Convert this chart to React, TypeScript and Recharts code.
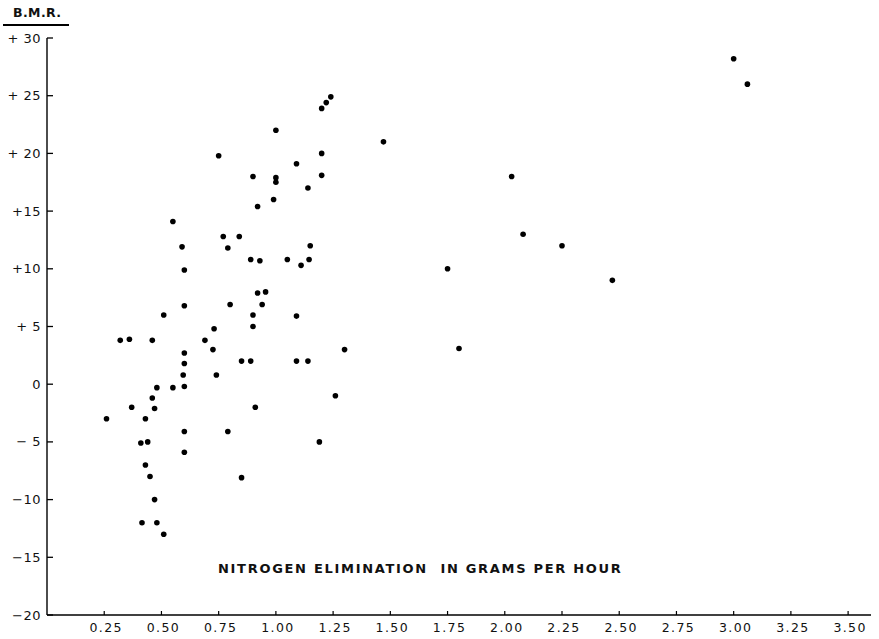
import React from "react";
import { ScatterChart, Scatter, XAxis, YAxis } from "recharts";

// Nitrogen elimination (g/hour)
const nitrogen = [
  0.92, 0.955, 0.60, 0.80, 0.94, 0.51, 0.90, 0.90, 0.73, 0.32,
  0.36, 0.46, 0.69, 0.725, 0.60, 0.85, 0.89, 0.60, 0.595, 0.74,
  0.48, 0.55, 0.60, 0.46, 0.37, 0.47, 0.91, 0.26, 0.43, 0.60,
  0.79, 0.41, 0.44, 0.60, 0.43, 0.45, 0.85, 0.47, 0.415, 0.48,
  0.51, 1.24, 1.22, 1.20, 1.00, 0.75, 1.20, 1.09, 0.90, 1.00,
  1.00, 1.20, 1.14, 0.99, 0.92, 0.77, 0.84, 0.59, 0.79, 1.15,
  0.89, 0.93, 1.05, 1.11, 1.145, 0.60, 0.55, 3.00, 3.06, 2.03,
  2.08, 2.25, 1.75, 2.47, 1.80, 1.47, 1.26, 1.30, 1.19, 1.09,
  1.14, 1.09,
];

// Basal metabolic rate (B.M.R.)
const bmr = [
  7.9, 8.0, 6.8, 6.9, 6.9, 6.0, 6.0, 5.0, 4.8, 3.8,
  3.9, 3.8, 3.8, 3.0, 2.7, 2.0, 2.0, 1.8, 0.8, 0.8,
  -0.3, -0.3, -0.2, -1.2, -2.0, -2.1, -2.0, -3.0, -3.0, -4.1,
  -4.1, -5.1, -5.0, -5.9, -7.0, -8.0, -8.1, -10.0, -12.0, -12.0,
  -13.0, 24.9, 24.4, 23.9, 22.0, 19.8, 20.0, 19.1, 18.0, 17.9,
  17.5, 18.1, 17.0, 16.0, 15.4, 12.8, 12.8, 11.9, 11.8, 12.0,
  10.8, 10.7, 10.8, 10.3, 10.8, 9.9, 14.1, 28.2, 26.0, 18.0,
  13.0, 12.0, 10.0, 9.0, 3.1, 21.0, -1.0, 3.0, -5.0, 2.0,
  2.0, 5.9,
];

const xTicks = [0.25, 0.5, 0.75, 1.0, 1.25, 1.5, 1.75, 2.0, 2.25, 2.5, 2.75, 3.0, 3.25, 3.5];
const xTickLabels = ["0.25", "0.50", "0.75", "1.00", "1.25", "1.50", "1.75", "2.00", "2.25", "2.50", "2.75", "3.00", "3.25", "3.50"];
const yTicks = [30, 25, 20, 15, 10, 5, 0, -5, -10, -15, -20];
const yTickLabels = ["+ 30", "+ 25", "+ 20", "+15", "+10", "+ 5", "0", "\u2212 5", "\u221210", "\u221215", "\u221220"];

const data = nitrogen.map((x, i) => ({ x, y: bmr[i] }));

const FONT = "'DejaVu Sans', 'Liberation Sans', sans-serif";

const YTick = (props: any) => {
  const { x, y, payload } = props;
  const idx = yTicks.indexOf(payload.value);
  return (
    <g>
      <line x1={x} x2={x + 6} y1={y} y2={y} stroke="#000" strokeWidth={1.3} />
      <text
        x={x - 6}
        y={y}
        textAnchor="end"
        dominantBaseline="central"
        fontFamily={FONT}
        fontSize={13}
        fill="#111"
        letterSpacing={0.5}
      >
        {idx >= 0 ? yTickLabels[idx] : payload.value}
      </text>
    </g>
  );
};

const XTick = (props: any) => {
  const { x, y, payload } = props;
  const idx = xTicks.indexOf(payload.value);
  return (
    <g>
      <line x1={x} x2={x} y1={y} y2={y - 4} stroke="#000" strokeWidth={1.2} />
      <text
        x={x + 2}
        y={y + 17}
        textAnchor="middle"
        fontFamily={FONT}
        fontSize={12.5}
        fill="#111"
        letterSpacing={1.4}
      >
        {idx >= 0 ? xTickLabels[idx] : payload.value}
      </text>
    </g>
  );
};

const Dot = (props: any) => {
  const { cx, cy } = props;
  return <circle cx={cx} cy={cy} r={2.8} fill="#000" />;
};

export default function App() {
  return (
    <div
      style={{
        position: "absolute",
        left: 0,
        top: 0,
        width: 879,
        height: 639,
        background: "#fff",
        overflow: "hidden",
      }}
    >
      <ScatterChart
        width={879}
        height={639}
        margin={{ top: 38, right: 8, bottom: 0, left: 0 }}
      >
        <XAxis
          type="number"
          dataKey="x"
          domain={[0, 3.6]}
          ticks={xTicks}
          allowDataOverflow
          height={24}
          tickSize={0}
          tickMargin={0}
          tickLine={false}
          axisLine={{ stroke: "#000", strokeWidth: 1.6 }}
          tick={<XTick />}
          interval={0}
        />
        <YAxis
          type="number"
          dataKey="y"
          domain={[-20, 30]}
          ticks={yTicks}
          allowDataOverflow
          width={47}
          tickSize={0}
          tickMargin={0}
          tickLine={false}
          axisLine={{ stroke: "#000", strokeWidth: 1.4 }}
          tick={<YTick />}
          interval={0}
        />
        <Scatter data={data} fill="#000" shape={<Dot />} isAnimationActive={false} />
      </ScatterChart>
      <div
        style={{
          position: "absolute",
          left: 13,
          top: 6,
          fontFamily: FONT,
          fontWeight: 700,
          fontSize: 12.5,
          color: "#111",
          letterSpacing: 0.4,
          lineHeight: "14px",
        }}
      >
        B.M.R.
      </div>
      <div
        style={{
          position: "absolute",
          left: 3,
          top: 24,
          width: 66,
          height: 2,
          background: "#000",
        }}
      />
      <div
        style={{
          position: "absolute",
          left: 218,
          top: 561,
          fontFamily: FONT,
          fontWeight: 700,
          fontSize: 13,
          color: "#111",
          letterSpacing: 1.7,
          whiteSpace: "pre",
          lineHeight: "15px",
        }}
      >
        {"NITROGEN ELIMINATION  IN GRAMS PER HOUR"}
      </div>
    </div>
  );
}
